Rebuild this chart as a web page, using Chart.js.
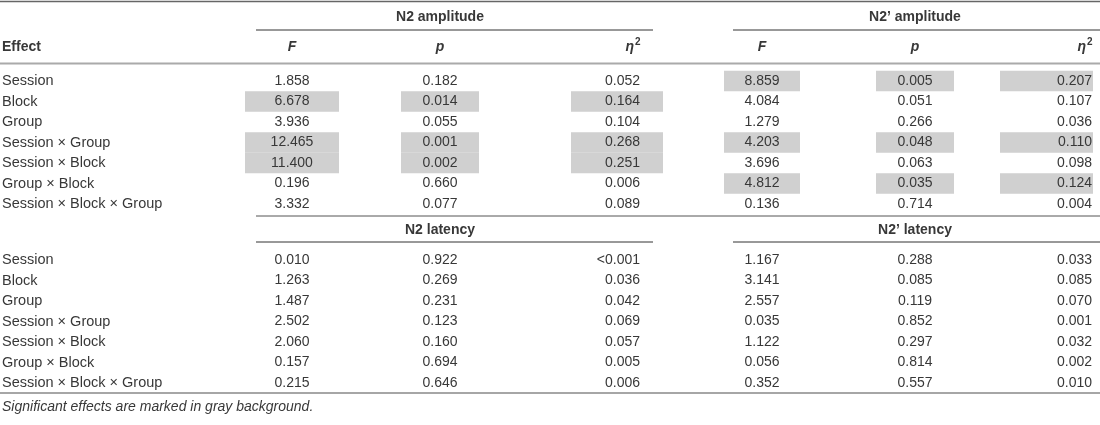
<!DOCTYPE html>
<html lang="en">
<head>
  <meta charset="UTF-8">
  <title>ANOVA table</title>
  <style>
    html, body { margin: 0; padding: 0; background: #fff; }
    #wrap { width: 1100px; height: 425px; }
  </style>
</head>
<body>
  <div id="wrap">
    <canvas id="myChart"></canvas>
  </div>

  <script src="https://cdn.jsdelivr.net/npm/chart.js"></script>

  <script>
    // table content
    const effects = ['Session', 'Block', 'Group', 'Session \u00d7 Group', 'Session \u00d7 Block', 'Group \u00d7 Block', 'Session \u00d7 Block \u00d7 Group'];

    const n2AmpF   = ['1.858', '6.678', '3.936', '12.465', '11.400', '0.196', '3.332'];
    const n2AmpP   = ['0.182', '0.014', '0.055', '0.001', '0.002', '0.660', '0.077'];
    const n2AmpEta = ['0.052', '0.164', '0.104', '0.268', '0.251', '0.006', '0.089'];

    const n2pAmpF   = ['8.859', '4.084', '1.279', '4.203', '3.696', '4.812', '0.136'];
    const n2pAmpP   = ['0.005', '0.051', '0.266', '0.048', '0.063', '0.035', '0.714'];
    const n2pAmpEta = ['0.207', '0.107', '0.036', '0.110', '0.098', '0.124', '0.004'];

    const n2LatF   = ['0.010', '1.263', '1.487', '2.502', '2.060', '0.157', '0.215'];
    const n2LatP   = ['0.922', '0.269', '0.231', '0.123', '0.160', '0.694', '0.646'];
    const n2LatEta = ['<0.001', '0.036', '0.042', '0.069', '0.057', '0.005', '0.006'];

    const n2pLatF   = ['1.167', '3.141', '2.557', '0.035', '1.122', '0.056', '0.352'];
    const n2pLatP   = ['0.288', '0.085', '0.119', '0.852', '0.297', '0.814', '0.557'];
    const n2pLatEta = ['0.033', '0.085', '0.070', '0.001', '0.032', '0.002', '0.010'];

    const groupTitles = ['N2 amplitude', 'N2\u2019 amplitude', 'N2 latency', 'N2\u2019 latency'];
    const footnote = 'Significant effects are marked in gray background.';

    // layout (pixel units on both scales)
    const colF = 292, colP = 440, colEtaR = 640;
    const colF2 = 762, colP2 = 915, colEta2R = 1092;
    const ampY0 = 81, latY0 = 260, rowH = 20.5;
    const boxes = { F: [245, 339], p: [401, 479], eta: [571, 663], F2: [724, 800], p2: [876, 954], eta2: [1000, 1093] };

    const textColor = '#383838';
    const font = '"Liberation Sans", Arial, Helvetica, sans-serif';

    function rowYs(y0) {
      return effects.map((e, i) => y0 + i * rowH);
    }
    const ampY = rowYs(ampY0);
    const latY = rowYs(latY0);

    function textSet(xs, ys, labels, opts) {
      return Object.assign({
        type: 'scatter',
        data: labels.map((l, i) => ({ x: Array.isArray(xs) ? xs[i] : xs, y: ys[i] })),
        cellText: labels,
        pointRadius: 0,
        pointHoverRadius: 0,
        align: 'center',
        weight: 'normal',
        italic: false
      }, opts || {});
    }

    function rule(x0, x1, y, color, width) {
      return {
        type: 'line',
        data: [{ x: x0, y: y }, { x: x1, y: y }],
        borderColor: color,
        borderWidth: width,
        pointRadius: 0,
        fill: false
      };
    }

    // gray cells where p < .05
    const shades = [];
    function shade(range, ys, pVals) {
      ys.forEach((y, i) => {
        if (parseFloat(pVals[i]) < 0.05) shades.push({ x0: range[0], x1: range[1], y: y });
      });
    }
    shade(boxes.F, ampY, n2AmpP);
    shade(boxes.p, ampY, n2AmpP);
    shade(boxes.eta, ampY, n2AmpP);
    shade(boxes.F2, ampY, n2pAmpP);
    shade(boxes.p2, ampY, n2pAmpP);
    shade(boxes.eta2, ampY, n2pAmpP);
    shade(boxes.F, latY, n2LatP);
    shade(boxes.p, latY, n2LatP);
    shade(boxes.eta, latY, n2LatP);
    shade(boxes.F2, latY, n2pLatP);
    shade(boxes.p2, latY, n2pLatP);
    shade(boxes.eta2, latY, n2pLatP);

    const datasets = [
      // rules
      rule(0, 1100, 1.5, '#666', 1.5),
      rule(256, 653, 30, '#333', 1),
      rule(733, 1100, 30, '#333', 1),
      rule(0, 1100, 63.5, '#aaa', 2),
      rule(256, 1100, 216, '#555', 1),
      rule(256, 653, 242, '#333', 1),
      rule(733, 1100, 242, '#333', 1),
      rule(0, 1100, 393, '#888', 1.5),

      // headers
      textSet([colP, colP2], [17, 17], groupTitles.slice(0, 2), { weight: 'bold' }),
      textSet([colP, colP2], [230, 230], groupTitles.slice(2), { weight: 'bold' }),
      textSet(2, [47], ['Effect'], { align: 'left', weight: 'bold' }),
      textSet([colF, colP, colF2, colP2], [47, 47, 47, 47], ['F', 'p', 'F', 'p'], { weight: 'bold', italic: true }),
      textSet([colEtaR - 6, colEta2R - 6], [47, 47], ['\u03b7', '\u03b7'], { align: 'right', weight: 'bold', italic: true, sup: '2' }),

      // effect names
      textSet(2, ampY, effects, { align: 'left', size: 14.5 }),
      textSet(2, latY, effects, { align: 'left', size: 14.5 }),

      // values
      textSet(colF, ampY, n2AmpF),
      textSet(colP, ampY, n2AmpP),
      textSet(colEtaR, ampY, n2AmpEta, { align: 'right' }),
      textSet(colF2, ampY, n2pAmpF),
      textSet(colP2, ampY, n2pAmpP),
      textSet(colEta2R, ampY, n2pAmpEta, { align: 'right' }),
      textSet(colF, latY, n2LatF),
      textSet(colP, latY, n2LatP),
      textSet(colEtaR, latY, n2LatEta, { align: 'right' }),
      textSet(colF2, latY, n2pLatF),
      textSet(colP2, latY, n2pLatP),
      textSet(colEta2R, latY, n2pLatEta, { align: 'right' }),

      // note
      textSet(2, [407], [footnote], { align: 'left', italic: true, size: 14 })
    ];

    const shadePlugin = {
      id: 'shade',
      beforeDatasetsDraw(chart) {
        const c = chart.ctx;
        const xs = chart.scales.x, ys = chart.scales.y;
        c.save();
        c.fillStyle = '#d0d0d0';
        shades.forEach(s => {
          const x0 = xs.getPixelForValue(s.x0), x1 = xs.getPixelForValue(s.x1);
          const y0 = ys.getPixelForValue(s.y - rowH / 2), y1 = ys.getPixelForValue(s.y + rowH / 2);
          c.fillRect(x0, y0, x1 - x0, y1 - y0);
        });
        c.restore();
      }
    };

    const cellTextPlugin = {
      id: 'cellText',
      afterDatasetsDraw(chart) {
        const c = chart.ctx;
        chart.data.datasets.forEach((ds, di) => {
          if (!ds.cellText) return;
          const meta = chart.getDatasetMeta(di);
          const size = ds.size || 14;
          c.save();
          c.fillStyle = textColor;
          c.textBaseline = 'middle';
          c.textAlign = ds.align;
          c.font = (ds.italic ? 'italic ' : '') + ds.weight + ' ' + size + 'px ' + font;
          meta.data.forEach((pt, i) => {
            c.fillText(ds.cellText[i], pt.x, pt.y);
            if (ds.sup) {
              c.save();
              c.textAlign = 'left';
              c.font = 'bold 10px ' + font;
              c.fillText(ds.sup, pt.x + 1, pt.y - 5);
              c.restore();
            }
          });
          c.restore();
        });
      }
    };

    const ctx = document.getElementById('myChart').getContext('2d');
    new Chart(ctx, {
      type: 'scatter',
      data: { datasets: datasets },
      plugins: [shadePlugin, cellTextPlugin],
      options: {
        responsive: true,
        maintainAspectRatio: false,
        animation: false,
        layout: { padding: 0 },
        plugins: {
          legend: { display: false },
          tooltip: { enabled: false }
        },
        events: [],
        scales: {
          x: { type: 'linear', min: 0, max: 1100, offset: false, display: false },
          y: { type: 'linear', min: 0, max: 425, reverse: true, offset: false, display: false }
        }
      }
    });
  </script>
</body>
</html>
